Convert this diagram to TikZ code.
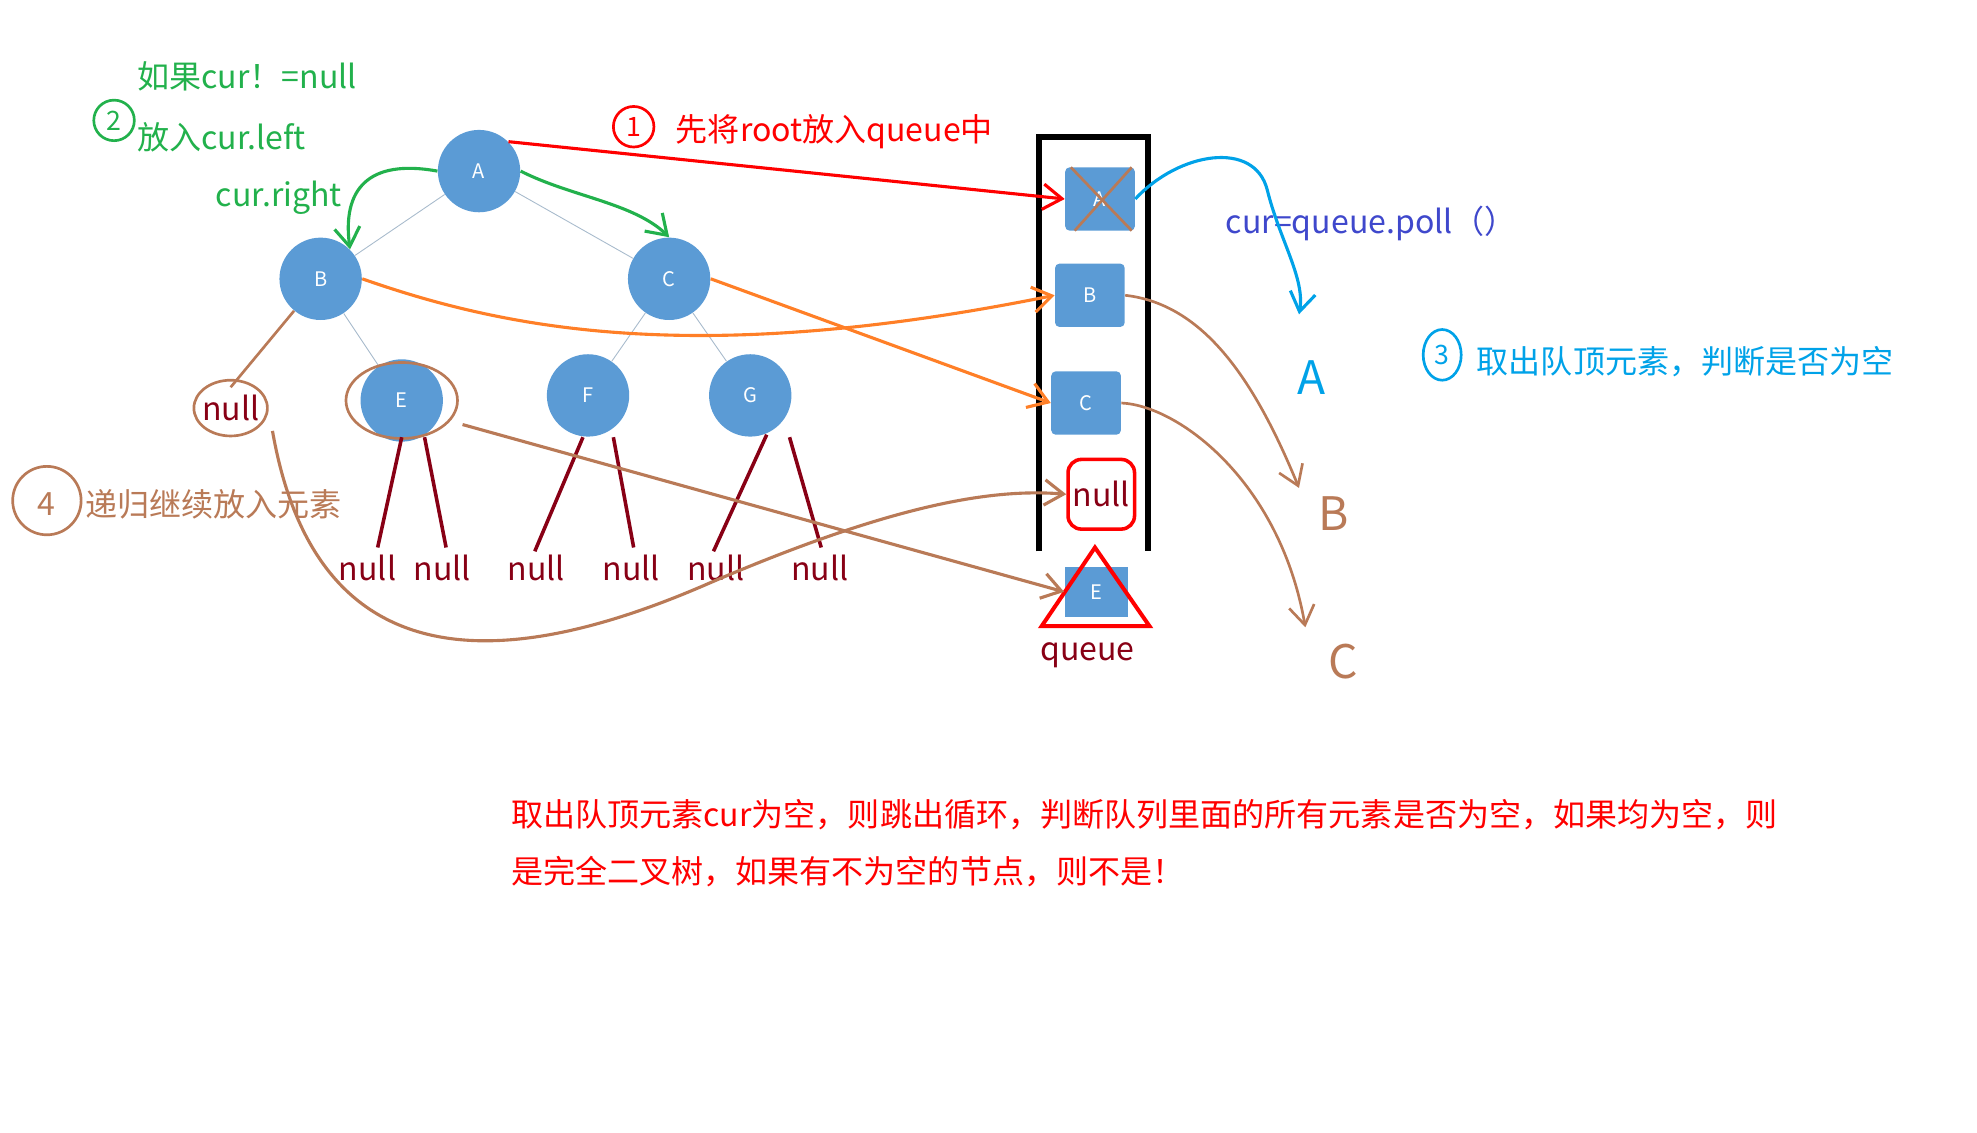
\documentclass[tikz,border=0pt]{standalone}
\usepackage{fontspec}
\setmainfont{Noto Sans CJK SC}
\usetikzlibrary{arrows.meta}
\definecolor{nb}{HTML}{5B9BD5}
\definecolor{gr}{HTML}{22B14C}
\definecolor{br}{HTML}{B97A57}
\definecolor{dr}{HTML}{880015}
\definecolor{org}{HTML}{FF7F27}
\definecolor{cy}{HTML}{00A2E8}
\definecolor{pu}{HTML}{3F48CC}
\begin{document}
\begin{tikzpicture}[x={(0.02cm,0)},y={(0,-0.02cm)},
  tn/.style={circle,fill=nb,minimum size=1.3cm,text=white,font=\small,inner sep=0pt},
  qn/.style={fill=nb,rounded corners=2pt,minimum width=1.1cm,minimum height=1.0cm,text=white,font=\small,inner sep=0pt},
  te/.style={draw=nb!50!gray!60,thin},
  nl/.style={text=dr,font=\Large},
  dl/.style={draw=dr,line width=1.6pt},
  lab/.style={anchor=west,font=\Large,inner sep=0pt},
  arr/.style={line width=1.4pt,-{Straight Barb[length=3mm,width=4mm]}}]
\useasboundingbox (0,0) rectangle (1560,894);
% tree
\node[tn] (A) at (378,135) {A};
\node[tn] (B) at (253,220) {B};
\node[tn] (C) at (528,220) {C};
\node[tn] (E) at (317,316) {E};
\node[tn] (F) at (464,312) {F};
\node[tn] (G) at (592,312) {G};
\draw[te] (A)--(B); \draw[te] (A)--(C); \draw[te] (B)--(E); \draw[te] (C)--(F); \draw[te] (C)--(G);
\node[text=dr,font=\Large] (n0) at (182,322) {null};
\draw[br,line width=1.2pt] (n0) ellipse [x radius=29,y radius=22];
\draw[br,line width=1.2pt] (E) ellipse [x radius=44,y radius=30];
\draw[br,line width=1.2pt] (B) -- (n0.north);
\node[nl] (n1) at (290,448) {null}; \node[nl] (n2) at (349,448) {null};
\node[nl] (n3) at (423,448) {null}; \node[nl] (n4) at (498,448) {null};
\node[nl] (n5) at (565,448) {null}; \node[nl] (n6) at (647,448) {null};
\draw[dl] (317,345)--(298,432); \draw[dl] (335,345)--(352,432);
\draw[dl] (460,345)--(422,435); \draw[dl] (484,345)--(500,432);
\draw[dl] (605,343)--(563,435); \draw[dl] (623,345)--(648,432);
% queue
\draw[line width=2.5pt] (820,435)--(820,108)--(906,108)--(906,435);
\node[qn] (qA) at (868,157) {A};
\draw[br,line width=1.2pt] (845,132)--(893,182) (893,132)--(848,182);
\node[qn] (qB) at (860,233) {B};
\node[qn] (qC) at (857,318) {C};
\node[draw=red,line width=1.6pt,rounded corners=6pt,minimum width=1.05cm,minimum height=1.1cm,text=dr,font=\Large,inner sep=0pt] (qN) at (869,390) {null};
\node[fill=nb,minimum width=1cm,minimum height=0.8cm,text=white,font=\small,inner sep=0pt] (qE) at (865,467) {E};
\draw[red,line width=1.8pt] (864,432)--(822,494)--(907,494)--cycle;
\node[text=dr,font=\Large] (ql) at (858,517) {queue};
% labels
\draw[red,line width=1.2pt] (500,100) circle (16); \node[red,font=\large] at (500,100) {1};
\node[lab,red] (t1) at (533,104) {先将root放入queue中};
\node[lab,gr] (g1) at (108,60) {如果cur！=null};
\draw[gr,line width=1.2pt] (90,95) circle (16); \node[gr,font=\large] at (90,95) {2};
\node[lab,gr] (g2) at (108,108) {放入cur.left};
\node[lab,gr] (g3) at (170,156) {cur.right};
\node[lab,pu] (p1) at (967,176) {cur=queue.poll（）};
\draw[cy,line width=1.2pt] (1138,280) ellipse [x radius=15,y radius=20]; \node[cy,font=\large] at (1138,280) {3};
\node[lab,cy] (c1) at (1165,285) {取出队顶元素，判断是否为空};
\draw[br,line width=1.2pt] (37,395) circle (27); \node[br,font=\Large] at (37,398) {4};
\node[lab,br] (b1) at (67,398) {递归继续放入元素};
\node[lab,red] (r1) at (403,643) {取出队顶元素cur为空，则跳出循环，判断队列里面的所有元素是否为空，如果均为空，则};
\node[lab,red] (r2) at (403,688) {是完全二叉树，如果有不为空的节点，则不是！};
\node[cy,font=\huge] (hA) at (1035,298) {A};
\node[br,font=\huge] (hB) at (1052,405) {B};
\node[br,font=\huge] (hC) at (1060,522) {C};
% arrows
\draw[arr,red] (A.north east) -- (qA.west);
\draw[arr,gr] (A.west) .. controls (290,125) and (270,150) .. (B.north east);
\draw[arr,gr] (A.east) .. controls (450,155) and (500,160) .. (C.north);
\draw[arr,org] (B.east) .. controls (400,260) and (550,290) .. (qB.west);
\draw[arr,org] (C.east) -- (qC.west);
\draw[arr,br] (365,335) -- (qE.west);
\draw[arr,br] (215,340) .. controls (250,540) and (400,530) .. (560,460) .. controls (700,400) and (780,385) .. (qN.west);
\draw[arr,cy] (qA.east) .. controls (930,120) and (990,110) .. (1000,150) .. controls (1010,190) and (1030,220) .. (1025,248);
\draw[br,line width=1.2pt,-{Straight Barb[length=3mm,width=4mm]}] (qB.east) .. controls (950,240) and (990,300) .. (1025,385);
\draw[br,line width=1.2pt,-{Straight Barb[length=3mm,width=4mm]}] (qC.east) .. controls (930,320) and (1010,380) .. (1030,495);
\end{tikzpicture}
\end{document}
